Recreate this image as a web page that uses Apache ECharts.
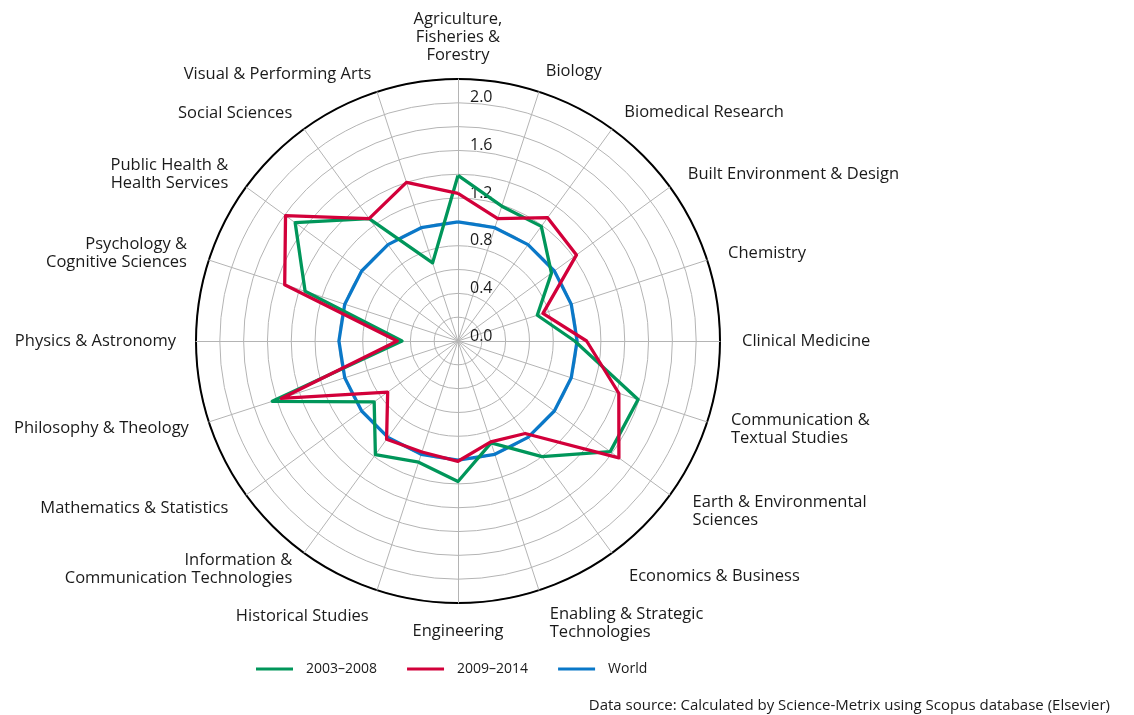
<!DOCTYPE html>
<html><head><meta charset="utf-8">
<script src="https://cdn.jsdelivr.net/npm/echarts@6/dist/echarts.min.js"></script>
<style>html,body{margin:0;padding:0;background:#fff}#c{width:1134px;height:715px}</style>
</head><body><div id="c"></div>
<script>
// Categories in clockwise order starting at the top
const categories = [
  'Agriculture,\nFisheries &\nForestry', 'Biology', 'Biomedical Research',
  'Built Environment & Design', 'Chemistry', 'Clinical Medicine',
  'Communication &\nTextual Studies', 'Earth & Environmental\nSciences',
  'Economics & Business', 'Enabling & Strategic\nTechnologies', 'Engineering',
  'Historical Studies', 'Information &\nCommunication Technologies',
  'Mathematics & Statistics', 'Philosophy & Theology', 'Physics & Astronomy',
  'Psychology &\nCognitive Sciences', 'Public Health &\nHealth Services',
  'Social Sciences', 'Visual & Performing Arts'
];
const seriesNames = ['2003–2008', '2009–2014', 'World'];
const values2003 = [1.39, 1.19, 1.19, 0.97, 0.70, 0.98, 1.59, 1.58, 1.20, 0.90,
                    1.18, 1.07, 1.18, 0.87, 1.64, 0.47, 1.35, 1.69, 1.27, 0.69];
const values2009 = [1.24, 1.08, 1.28, 1.23, 0.75, 1.08, 1.42, 1.67, 0.96, 0.89,
                    1.01, 0.98, 1.02, 0.73, 1.56, 0.51, 1.53, 1.79, 1.27, 1.40];
const valuesWorld = [1, 1, 1, 1, 1, 1, 1, 1, 1, 1, 1, 1, 1, 1, 1, 1, 1, 1, 1, 1];
const axisMax = 2.2;
const sourceText = 'Data source: Calculated by Science-Metrix using Scopus database (Elsevier)';

// layout only: distance of each category name from the outer ring (px)
const nameGaps = [15, 22, 21, 22, 22, 22, 25, 28, 29, 35, 19, 27, 20, 22, 21, 20, 23, 22, 20, 18];

// ECharts radar runs counter-clockwise; reorder to draw clockwise
const reorder = a => [a[0]].concat(a.slice(1).reverse());
const FONT = 'Open Sans';
const gapsOrdered = reorder(nameGaps);
const indicators = reorder(categories).map((n, i) => {
  const o = { name: n, max: axisMax, min: 0, nameGap: gapsOrdered[i] };
  if (i === 0) {
    o.axisLabel = {
      show: true, color: '#1a1a1a', fontSize: 16, fontFamily: FONT,
      margin: -12, align: 'left', verticalAlign: 'bottom', lineHeight: 10,
      formatter: v => {
        const k = Math.round(v * 10);
        return (k % 4 === 0 && k <= 20) ? (k / 10).toFixed(1) : '';
      }
    };
  }
  return o;
});
const colors = ['#00965A', '#D2003A', '#0A78C8'];
const chart = echarts.init(document.getElementById('c'));
chart.setOption({
  animation: false,
  color: colors,
  title: {
    text: sourceText, right: 19, top: 693,
    textStyle: { fontSize: 15, fontWeight: 'normal', color: '#1a1a1a', fontFamily: FONT }
  },
  legend: {
    data: seriesNames, left: 251, top: 657, itemGap: 30, itemWidth: 37, itemHeight: 3,
    icon: 'rect',
    textStyle: { fontSize: 14, color: '#1a1a1a', fontFamily: FONT, padding: [0, 0, 0, 8] }
  },
  radar: [{
    center: [458, 341], radius: 262, startAngle: 90, shape: 'circle',
    splitNumber: 11, nameGap: 18,
    indicator: indicators,
    axisName: { color: '#1a1a1a', fontSize: 16.5, fontFamily: FONT, lineHeight: 18 },
    axisLine: { lineStyle: { color: '#b4b4b4', width: 1 } },
    axisTick: { show: false },
    axisLabel: { show: false },
    splitLine: { lineStyle: { color: '#b4b4b4', width: 1 } },
    splitArea: { show: false }
  }, {
    center: [458, 341], radius: 262, startAngle: 90, shape: 'circle',
    splitNumber: 1,
    indicator: reorder(categories).map(() => ({ name: '', max: axisMax, min: 0 })),
    axisName: { show: false },
    axisLine: { show: false }, axisTick: { show: false }, axisLabel: { show: false },
    splitLine: { lineStyle: { color: '#000', width: 2 } },
    splitArea: { show: false }
  }],
  series: [
    { type: 'radar', radarIndex: 0, symbol: 'none', z: 2,
      lineStyle: { width: 3.3, color: colors[2] }, itemStyle: { color: colors[2] },
      data: [{ name: seriesNames[2], value: reorder(valuesWorld) }] },
    { type: 'radar', radarIndex: 0, symbol: 'none', z: 3,
      lineStyle: { width: 3.3, color: colors[0] }, itemStyle: { color: colors[0] },
      data: [{ name: seriesNames[0], value: reorder(values2003) }] },
    { type: 'radar', radarIndex: 0, symbol: 'none', z: 4,
      lineStyle: { width: 3.3, color: colors[1] }, itemStyle: { color: colors[1] },
      data: [{ name: seriesNames[1], value: reorder(values2009) }] }
  ]
});
</script></body></html>
